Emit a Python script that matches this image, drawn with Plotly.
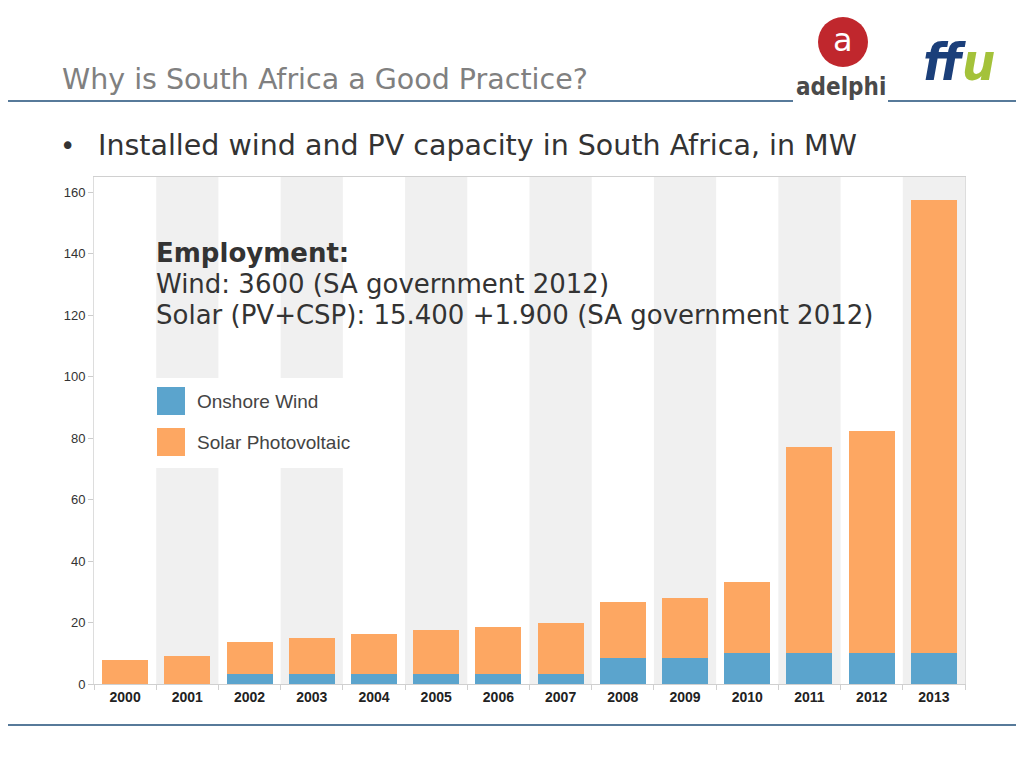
import plotly.graph_objects as go

years = ["2000", "2001", "2002", "2003", "2004", "2005", "2006",
         "2007", "2008", "2009", "2010", "2011", "2012", "2013"]
wind_mw = [0, 0, 3.2, 3.2, 3.2, 3.2, 3.2, 3.2, 8.4, 8.4, 10.1, 10.1, 10.1, 10.1]
solar_mw = [7.8, 9.1, 10.5, 11.7, 13.0, 14.3, 15.5, 16.7, 18.3, 19.5, 23.1, 67.1, 72.3, 147.2]
y_ticks = [0, 20, 40, 60, 80, 100, 120, 140, 160]

WIND_C = "#5BA4CD"
SOLAR_C = "#FDA762"
BAND_C = "#F0F0F0"
NAVY = "#1F4E79"

W, H = 1024, 768
OFF = 8  # page body margin
# plot area in screen pixels
L, R, T, B = 94, 965, 177, 684


def px(x):
    return (x - L) / (R - L)


def py(y):
    return (B - y) / (B - T)


fig = go.Figure()
fig.add_trace(go.Bar(x=years, y=wind_mw, name="Onshore Wind",
                     marker=dict(color=WIND_C, line=dict(width=0))))
fig.add_trace(go.Bar(x=years, y=solar_mw, name="Solar Photovoltaic",
                     marker=dict(color=SOLAR_C, line=dict(width=0))))

shapes = []
for i in range(len(years)):
    if i % 2 == 1:
        shapes.append(dict(type="rect", xref="x", yref="paper",
                           x0=i - 0.5, x1=i + 0.5, y0=0, y1=1,
                           fillcolor=BAND_C, line=dict(width=0), layer="below"))
shapes.append(dict(type="rect", xref="paper", yref="paper",
                   x0=px(150), x1=px(350), y0=py(468), y1=py(378),
                   fillcolor="white", line=dict(width=0), layer="below"))
shapes.append(dict(type="rect", xref="paper", yref="paper",
                   x0=px(157), x1=px(185), y0=py(415), y1=py(387),
                   fillcolor=WIND_C, line=dict(width=0)))
shapes.append(dict(type="rect", xref="paper", yref="paper",
                   x0=px(157), x1=px(185), y0=py(456), y1=py(428),
                   fillcolor=SOLAR_C, line=dict(width=0)))
shapes.append(dict(type="line", xref="paper", yref="paper",
                   x0=px(0), x1=px(793), y0=py(101), y1=py(101),
                   line=dict(color=NAVY, width=1.5)))
shapes.append(dict(type="line", xref="paper", yref="paper",
                   x0=px(888), x1=px(1030), y0=py(101), y1=py(101),
                   line=dict(color=NAVY, width=1.5)))
shapes.append(dict(type="line", xref="paper", yref="paper",
                   x0=px(0), x1=px(1030), y0=py(725), y1=py(725),
                   line=dict(color=NAVY, width=1.5)))
shapes.append(dict(type="circle", xref="paper", yref="paper",
                   x0=px(818), x1=px(868), y0=py(67), y1=py(17),
                   fillcolor="#C0272D", line=dict(width=0)))

ann = []


def text(t, x, y, size, color, family="DejaVu Sans", xanchor="left"):
    ann.append(dict(text=t, xref="paper", yref="paper", x=px(x), y=py(y),
                    xanchor=xanchor, yanchor="middle", showarrow=False, align="left",
                    font=dict(family=family, size=size, color=color)))


text("Why is South Africa a Good Practice?", 60, 80, 28.5, "#808080")
text("•", 58, 146, 26, "#333333")
text("Installed wind and PV capacity in South Africa, in MW", 96, 146, 28.5, "#333333")
text("<b>Employment:</b>", 154, 253, 26, "#333333")
text("Wind: 3600 (SA government 2012)", 154, 284, 26, "#333333")
text("Solar (PV+CSP): 15.400 +1.900 (SA government 2012)", 154, 315, 26, "#333333")
text("Onshore Wind", 195, 401, 19, "#444444", family="Liberation Sans")
text("Solar Photovoltaic", 195, 442, 19, "#444444", family="Liberation Sans")
text("a", 843, 40, 32, "white", xanchor="center")
text("<b>adelphi</b>", 841, 87, 24, "#4A4A4A", family="DejaVu Sans Condensed", xanchor="center")
text("<b><i><span style='color:#1B3F7A'>ff</span>"
     "<span style='color:#A4C23A'>u</span></i></b>", 959, 62, 52, "#1B3F7A",
     family="DejaVu Sans Condensed", xanchor="center")

fig.update_layout(
    width=W, height=H,
    margin=dict(l=L - OFF, r=W - (R - OFF), t=T - OFF, b=H - (B - OFF), pad=0),
    paper_bgcolor="white", plot_bgcolor="white",
    barmode="stack", bargap=0.26,
    showlegend=False,
    shapes=shapes, annotations=ann,
    xaxis=dict(type="category", showgrid=False, showline=True, linecolor="#D0D0D0",
               mirror=True, ticks="outside", tickson="boundaries", ticklen=5,
               tickcolor="#D0D0D0",
               tickfont=dict(family="Liberation Sans", size=14, color="#222222", weight="bold")),
    yaxis=dict(range=[0, 164.9], tickvals=y_ticks, showgrid=False, zeroline=False,
               showline=True, linecolor="#DDDDDD", mirror=True,
               ticks="outside", ticklen=5, tickcolor="#CCCCCC",
               tickfont=dict(family="Liberation Sans", size=13, color="#333333")),
)

fig.write_html("out.html")
